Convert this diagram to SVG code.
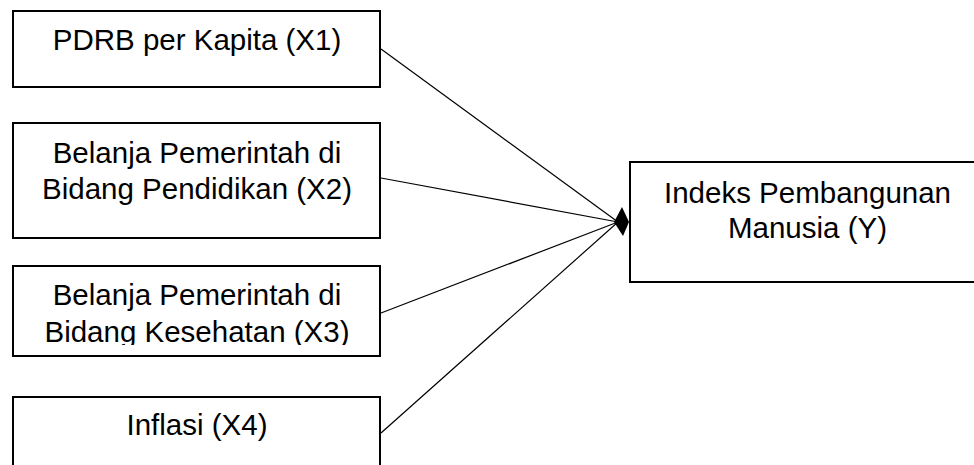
<svg xmlns="http://www.w3.org/2000/svg" width="974" height="465" viewBox="0 0 974 465">
<defs>
<style>
.box{fill:#fff;stroke:#000;stroke-width:2}
.t{font-family:"Liberation Sans",Arial,sans-serif;font-size:29.5px;fill:#000;text-anchor:middle}
.c{stroke:#000;stroke-width:1.2;fill:none}
</style>
<clipPath id="clip3"><rect x="0" y="260" width="400" height="85"/></clipPath>
</defs>
<rect width="974" height="465" fill="#fff"/>
<g id="x1">
<rect class="box" x="13" y="11" width="367" height="76"/>
<text class="t" x="197" y="50">PDRB per Kapita (X1)</text>
</g>
<g id="x2">
<rect class="box" x="13" y="123" width="367" height="115"/>
<text class="t" x="197" y="163">Belanja Pemerintah di</text>
<text class="t" x="197" y="199">Bidang Pendidikan (X2)</text>
</g>
<g id="x3">
<rect class="box" x="13" y="266" width="367" height="90"/>
<g clip-path="url(#clip3)">
<text class="t" x="197" y="305">Belanja Pemerintah di</text>
<text class="t" x="197" y="341.5">Bidang Kesehatan (X3)</text>
</g>
</g>
<g id="x4">
<rect class="box" x="13" y="397" width="367" height="80"/>
<text class="t" x="197" y="435">Inflasi (X4)</text>
</g>
<g id="y">
<rect class="box" x="630" y="162" width="350" height="120"/>
<text class="t" x="807.5" y="202.5">Indeks Pembangunan</text>
<text class="t" x="807.5" y="238">Manusia (Y)</text>
</g>
<g id="connectors">
<line class="c" x1="381" y1="49" x2="618" y2="222"/>
<line class="c" x1="381" y1="178" x2="618" y2="222"/>
<line class="c" x1="381" y1="313" x2="618" y2="222"/>
<line class="c" x1="381" y1="433" x2="618" y2="222"/>
<polygon points="629,222 622,207 614,222 623,236" fill="#000"/>
</g>
</svg>
